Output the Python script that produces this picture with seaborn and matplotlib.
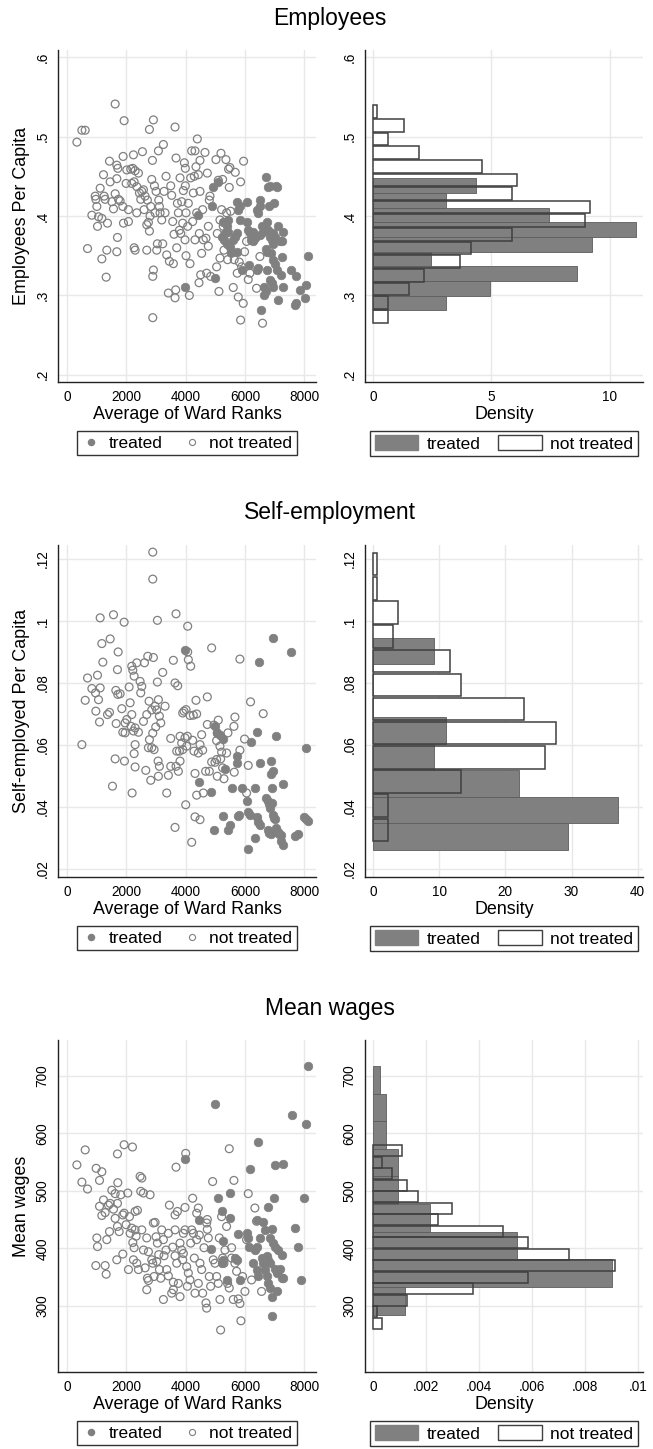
import matplotlib
matplotlib.use("Agg")
import matplotlib.pyplot as plt
import numpy as np
import pandas as pd
import seaborn as sns
from matplotlib.lines import Line2D
from matplotlib.patches import Patch

# ---------------- Employees ----------------
emp_treated = [
    (4432, .401), (4937, .436), (5105, .443), (4881, .412), (4993, .322), (3994, .311),
    (5273, .393), (5385, .387), (5330, .378), (5442, .380), (5217, .374), (5296, .370),
    (5385, .365), (5498, .361), (5531, .355), (5610, .370), (5666, .374), (5722, .378),
    (5744, .418), (5834, .412), (5755, .408), (5834, .395), (5890, .332), (6059, .393),
    (6115, .382), (6171, .378), (6081, .418), (6148, .338), (6193, .370), (6283, .368),
    (6339, .372), (6395, .332), (6451, .334), (6530, .282), (6395, .408), (6451, .404),
    (6508, .412), (6508, .420), (6564, .387), (6597, .380), (6653, .385), (6653, .311),
    (6709, .305), (6653, .300), (6709, .449), (6732, .393), (6788, .382), (6844, .374),
    (6900, .370), (6956, .365), (6732, .332), (6844, .320), (6900, .316), (6956, .311),
    (6788, .436), (6844, .438), (6822, .412), (6866, .353), (6934, .345), (7013, .340),
    (6990, .416), (7046, .438), (7091, .437), (7069, .332), (7102, .294), (7125, .387),
    (7181, .368), (7237, .349), (7203, .326), (7271, .311), (7293, .380), (7248, .368),
    (7552, .332), (7742, .324), (7687, .288), (7742, .290), (7854, .307), (8022, .297),
    (8056, .313), (8134, .350), (5442, .395), (5722, .355), (6956, .378), (7013, .374),
    (6508, .376), (6283, .380), (6709, .359), (6732, .355),
]
emp_untreated = [
    (337, .493), (505, .508), (617, .508), (696, .359), (842, .401), (954, .425), (976, .421),
    (1010, .412), (1066, .399), (1032, .387), (1122, .435), (1178, .397), (1178, .346),
    (1234, .452), (1257, .425), (1290, .421), (1324, .323), (1346, .357), (1369, .391),
    (1436, .469), (1459, .443), (1515, .418), (1571, .409), (1627, .541), (1627, .428),
    (1683, .464), (1717, .460), (1683, .447), (1705, .373), (1683, .355), (1739, .421),
    (1795, .419), (1885, .412), (1908, .391), (1930, .520), (1896, .475), (1997, .441),
    (2020, .458), (2076, .393), (2076, .408), (2154, .459), (2222, .460), (2300, .457),
    (2244, .477), (2188, .441), (2267, .443), (2356, .437), (2267, .360), (2300, .357),
    (2356, .404), (2412, .454), (2446, .429), (2490, .421), (2525, .431), (2581, .433),
    (2547, .481), (2603, .408), (2637, .425), (2693, .389), (2749, .392), (2693, .357),
    (2715, .420), (2783, .509), (2783, .381), (2805, .400), (2827, .412), (2861, .446),
    (2884, .470), (2917, .521), (2917, .332), (2895, .324), (2895, .272), (2951, .438),
    (2973, .404), (3007, .431), (3029, .357), (3052, .365), (3086, .482), (3097, .420),
    (3119, .412), (3142, .404), (3198, .395), (3231, .365), (3254, .490), (3276, .431),
    (3310, .404), (3343, .450), (3366, .351), (3422, .303), (3456, .343), (3501, .438),
    (3534, .426), (3568, .393), (3590, .340), (3613, .377), (3647, .512), (3647, .297),
    (3669, .307), (3680, .473), (3703, .360), (3726, .416), (3759, .404), (3793, .382),
    (3815, .448), (3838, .378), (3871, .418), (3905, .391), (3927, .432), (3961, .467),
    (3983, .370), (3994, .460), (3994, .438), (4017, .404), (4017, .350), (4073, .387),
    (4095, .416), (4129, .300), (4151, .340), (4174, .448), (4207, .482), (4320, .482),
    (4241, .393), (4264, .429), (4297, .450), (4320, .370), (4353, .462), (4376, .404),
    (4398, .497), (4432, .452), (4455, .316), (4466, .378), (4488, .470), (4488, .431),
    (4511, .326), (4544, .353), (4578, .408), (4600, .370), (4656, .480), (4690, .372),
    (4713, .328), (4735, .454), (4769, .387), (4769, .362), (4802, .420), (4825, .425),
    (4847, .324), (5026, .471), (5049, .336), (5071, .378), (5105, .445), (5127, .305),
    (5161, .395), (5161, .347), (5195, .479), (5217, .408), (5251, .446), (5273, .387),
    (5296, .357), (5363, .471), (5385, .404), (5419, .345), (5452, .459), (5475, .436),
    (5498, .461), (5520, .406), (5553, .353), (5610, .310), (5643, .345), (5677, .455),
    (5744, .328), (5778, .298), (5811, .342), (5857, .443), (5857, .269), (5890, .336),
    (5946, .290), (5958, .469), (5991, .355), (6059, .368), (6115, .320), (6171, .328),
    (6395, .309), (6597, .265), (6508, .349),
]
emp_ylim = (0.191, 0.609)
emp_yticks = [0.2, 0.3, 0.4, 0.5, 0.6]
emp_yticklabels = [".2", ".3", ".4", ".5", ".6"]
# histogram: top edge, bin width, densities listed from top bin downwards
emp_hist_t_top, emp_hist_t_width = 0.4477, 0.0185
emp_hist_t_dens = [4.34, 3.07, 7.42, 11.1, 9.24, 2.46, 8.63, 4.93, 3.07]
emp_hist_n_top, emp_hist_n_width = 0.540, 0.01718
emp_hist_n_dens = [0.18, 1.3, 0.63, 1.93, 4.58, 6.08, 5.87, 9.15, 8.93, 5.87, 4.14,
                   3.69, 2.15, 1.51, 0.63, 0.63]
emp_dens_xlim = (-0.34, 11.4)
emp_dens_ticks = [0, 5, 10]
emp_dens_labels = ["0", "5", "10"]

# ---------------- Self-employment ----------------
self_treated = [
    (3994, .0905), (4466, .0481), (4858, .0448), (4960, .0327), (4993, .0660), (5071, .0639),
    (5161, .0633), (5251, .0619), (5330, .0521), (5251, .0372), (5419, .0327), (5498, .0343),
    (5554, .0461), (5722, .0564), (5744, .0542), (5778, .0370), (5811, .0374), (5890, .0461),
    (6059, .0418), (6115, .0383), (6171, .0375), (6115, .0263), (6193, .0609), (6339, .0461),
    (6339, .0300), (6395, .0368), (6451, .0352), (6508, .0341), (6418, .0641), (6485, .0867),
    (6508, .0542), (6709, .0430), (6765, .0419), (6822, .0408), (6855, .0397), (6900, .0414),
    (6765, .0327), (6822, .0316), (6878, .0314), (6878, .0548), (6878, .0505), (6934, .0516),
    (6900, .0461), (6956, .0945), (6934, .0375), (6990, .0363), (7013, .0361), (7046, .0331),
    (7102, .0320), (7159, .0314), (7215, .0311), (7215, .0289), (7271, .0278), (7068, .0628),
    (7293, .0475), (7552, .0900), (7687, .0305), (7800, .0312), (8000, .0368), (8056, .0361),
    (8134, .0354), (8056, .0590),
]
self_untreated = [
    (505, .0601), (617, .0744), (696, .0816), (842, .0782), (965, .0768), (976, .0709),
    (1032, .0825), (1066, .0746), (1100, .0674), (1122, .0784), (1122, .1010), (1178, .0927),
    (1212, .0867), (1369, .0698), (1436, .0705), (1459, .0942), (1537, .0467), (1571, .1020),
    (1627, .0555), (1650, .0776), (1717, .0763), (1661, .0669), (1705, .0843), (1728, .0900),
    (1795, .0765), (1851, .0717), (1885, .0641), (1963, .0639), (1930, .0996), (1941, .0548),
    (1963, .0671), (2020, .0682), (2098, .0787), (2132, .0736), (2188, .0698), (2166, .0660),
    (2188, .0854), (2222, .0841), (2267, .0822), (2199, .0445), (2244, .0645), (2300, .0655),
    (2300, .0601), (2267, .0572), (2300, .0529), (2356, .0865), (2412, .0641), (2468, .0805),
    (2490, .0768), (2525, .0789), (2581, .0676), (2615, .0865), (2660, .0518), (2693, .0698),
    (2727, .0886), (2771, .0741), (2749, .0591), (2783, .0617), (2827, .0486), (2861, .0713),
    (2895, .0638), (2861, .0591), (2895, .1222), (2895, .1135), (2917, .0882), (2940, .0585),
    (2996, .0658), (2973, .0725), (3029, .0713), (3052, .0803), (3052, .1002), (3086, .0746),
    (3119, .0693), (3164, .0671), (3075, .0548), (3119, .0531), (3086, .0499), (3231, .0834),
    (3310, .0725), (3366, .0445), (3422, .0502), (3501, .0621), (3501, .0531), (3590, .0873),
    (3647, .0800), (3736, .0791), (3647, .0334), (3680, .1023), (3680, .0531), (3759, .0515),
    (3703, .0580), (3793, .0580), (3815, .0628), (3871, .0606), (3905, .0585), (3815, .0548),
    (3905, .0703), (3950, .0709), (4017, .0714), (3983, .0623), (4039, .0596), (4062, .0628),
    (4006, .0407), (4073, .0983), (4073, .0900), (4095, .0875), (4174, .0854), (4152, .0695),
    (4264, .0696), (4376, .0700), (4208, .0286), (4241, .0615), (4286, .0580), (4320, .0508),
    (4320, .0368), (4353, .0744), (4376, .0438), (4432, .0574), (4488, .0601), (4488, .0359),
    (4544, .0633), (4578, .0583), (4600, .0445), (4679, .0515), (4735, .0755), (4802, .0515),
    (4735, .0666), (4881, .0545), (4960, .0664), (4881, .0913), (4993, .0544), (5049, .0553),
    (5071, .0499), (5049, .0614), (5071, .0639), (5105, .0680), (5161, .0596), (5217, .0577),
    (5184, .0555), (5251, .0526), (5296, .0491), (5385, .0574), (5430, .0639), (5632, .0660),
    (5666, .0690), (5643, .0512), (5834, .0877), (5834, .0583), (5991, .0619), (6059, .0445),
    (6115, .0534), (6193, .0739), (6620, .0701),
]
self_ylim = (0.0174, 0.1245)
self_yticks = [0.02, 0.04, 0.06, 0.08, 0.10, 0.12]
self_yticklabels = [".02", ".04", ".06", ".08", ".1", ".12"]
self_hist_t_top, self_hist_t_width = 0.0945, 0.00853
self_hist_t_dens = [9.29, 0, 0, 11.1, 9.29, 22.1, 37.0, 29.5]
self_hist_n_top, self_hist_n_width = 0.1222, 0.00779
self_hist_n_dens = [0.66, 0.66, 3.83, 3.06, 11.7, 13.3, 22.8, 27.6, 26.0, 13.3, 2.3, 2.3]
self_dens_xlim = (-1.2, 40.8)
self_dens_ticks = [0, 10, 20, 30, 40]
self_dens_labels = ["0", "10", "20", "30", "40"]

# ---------------- Mean wages ----------------
wage_treated = [
    (3983, 556), (4443, 450), (4858, 399), (4993, 650), (5105, 488), (5217, 464), (5251, 412),
    (5217, 374), (5273, 380), (5408, 345), (5498, 496), (5498, 452), (5666, 383), (5744, 380),
    (5778, 425), (5834, 345), (6059, 427), (6115, 418), (6148, 403), (6171, 537), (6283, 374),
    (6395, 363), (6451, 351), (6339, 397), (6395, 403), (6395, 450), (6451, 585), (6508, 418),
    (6564, 383), (6620, 374), (6620, 445), (6676, 431), (6676, 363), (6732, 351), (6788, 339),
    (6844, 331), (6732, 386), (6788, 380), (6844, 374), (6788, 471), (6844, 418), (6900, 434),
    (6900, 316), (6900, 282), (6956, 409), (7013, 403), (6990, 487), (7013, 364), (7069, 357),
    (7024, 545), (7069, 325), (7125, 397), (7237, 389), (7181, 364), (7237, 348), (7293, 546),
    (7697, 435), (7574, 631), (7798, 403), (7888, 345), (8000, 487), (8056, 616), (8134, 716),
    (7271, 348),
]
wage_untreated = [
    (337, 545), (505, 515), (617, 571), (696, 503), (987, 539), (1010, 418), (1032, 403),
    (976, 370), (1100, 518), (1178, 533), (1100, 473), (1178, 457), (1234, 484), (1290, 462),
    (1290, 370), (1324, 355), (1346, 415), (1402, 475), (1459, 478), (1436, 429), (1515, 501),
    (1571, 468), (1627, 452), (1627, 495), (1705, 564), (1717, 514), (1705, 478), (1705, 438),
    (1683, 380), (1762, 429), (1817, 493), (1885, 458), (1930, 461), (1885, 390), (1930, 580),
    (1997, 441), (2053, 496), (2076, 363), (2110, 455), (2132, 426), (2188, 435), (2211, 576),
    (2222, 410), (2267, 401), (2244, 380), (2300, 464), (2379, 466), (2300, 432), (2334, 421),
    (2356, 374), (2412, 363), (2468, 525), (2525, 522), (2490, 499), (2525, 432), (2581, 397),
    (2637, 366), (2581, 496), (2693, 418), (2749, 394), (2693, 328), (2715, 348), (2749, 344),
    (2805, 493), (2861, 380), (2895, 374), (2940, 351), (2917, 444), (2973, 445), (3007, 420),
    (3052, 409), (3029, 377), (3097, 389), (3119, 363), (3164, 348), (3198, 432), (3254, 415),
    (3254, 311), (3276, 387), (3343, 397), (3366, 363), (3422, 352), (3422, 426), (3456, 475),
    (3534, 322), (3590, 328), (3568, 402), (3647, 387), (3590, 341), (3647, 432), (3647, 458),
    (3726, 464), (3680, 541), (3703, 374), (3759, 339), (3815, 316), (3815, 409), (3871, 397),
    (3927, 391), (3905, 380), (3927, 426), (3983, 432), (3983, 471), (4006, 565), (4039, 368),
    (4095, 357), (4151, 345), (4062, 334), (4174, 409), (4208, 432), (4264, 426), (4241, 487),
    (4297, 383), (4320, 322), (4376, 461), (4432, 470), (4376, 415), (4466, 423), (4432, 339),
    (4488, 374), (4544, 363), (4578, 322), (4623, 401), (4690, 305), (4713, 296), (4713, 444),
    (4735, 433), (4735, 450), (4769, 418), (4802, 351), (4847, 334), (4915, 516), (4937, 380),
    (4993, 374), (5049, 351), (5105, 339), (5139, 418), (5161, 311), (5184, 258), (5217, 455),
    (5251, 383), (5296, 374), (5330, 397), (5385, 438), (5419, 339), (5475, 331), (5475, 573),
    (5554, 401), (5554, 383), (5610, 311), (5666, 374), (5632, 518), (5722, 360), (5778, 312),
    (5834, 304), (5868, 274), (5924, 351), (6003, 325), (6059, 415), (6115, 495), (6227, 345),
    (6339, 470), (6395, 447), (6564, 325),
]
wage_ylim = (185, 762)
wage_yticks = [300, 400, 500, 600, 700]
wage_yticklabels = ["300", "400", "500", "600", "700"]
wage_hist_t_top, wage_hist_t_width = 716.8, 48.0
wage_hist_t_dens = [.00025, .00048, .00048, .00095, .00095, .00215, .00545, .00903, .0012]
wage_hist_n_top, wage_hist_n_width = 579.6, 20.0
wage_hist_n_dens = [.0011, .00035, .00072, .0013, .0017, .0030, .00245, .0049, .00587,
                    .0074, .00913, .00587, .00378, .0013, .00016, .00034]
wage_dens_xlim = (-0.0003, 0.0102)
wage_dens_ticks = [0, .002, .004, .006, .008, .01]
wage_dens_labels = ["0", ".002", ".004", ".006", ".008", ".01"]

rank_ticks = [0, 2000, 4000, 6000, 8000]
rank_xlim = (-300, 8400)

GREY = "#808080"
EDGE = "#404040"
GRID = "#e8e8e8"

sns.set_style("white")
plt.rcParams["font.family"] = ["Liberation Sans", "DejaVu Sans"]
plt.rcParams["text.color"] = "black"
plt.rcParams["axes.labelcolor"] = "black"
plt.rcParams["xtick.color"] = "black"
plt.rcParams["ytick.color"] = "black"

fig = plt.figure(figsize=(6.53, 14.49), dpi=100)
W, H = 653.0, 1449.0


def make_ax(x0, x1, y_top, y_bot):
    return fig.add_axes([x0 / W, 1 - y_bot / H, (x1 - x0) / W, (y_bot - y_top) / H])


def style_ax(ax, ylim, yticks, yticklabels):
    ax.set_ylim(*ylim)
    ax.set_yticks(yticks)
    ax.set_yticklabels(yticklabels, rotation=90, va="center", fontsize=9.8)
    ax.grid(True, color=GRID, lw=1)
    ax.set_axisbelow(True)
    for s in ["top", "right"]:
        ax.spines[s].set_visible(False)
    for s in ["left", "bottom"]:
        ax.spines[s].set_color("#222222")
        ax.spines[s].set_linewidth(1)
    ax.tick_params(axis="both", direction="out", length=4, width=1, color="#222222",
                   labelsize=9.8, labelcolor="black", pad=2)


def scatter_panel(ax, treated, untreated, ylabel, ylim, yticks, yticklabels):
    t = pd.DataFrame(treated, columns=["rank", "val"])
    n = pd.DataFrame(untreated, columns=["rank", "val"])
    sns.scatterplot(data=n, x="rank", y="val", ax=ax, facecolors="none", edgecolor=GREY,
                    s=32, linewidth=0.9, zorder=3)
    sns.scatterplot(data=t, x="rank", y="val", ax=ax, color=GREY, edgecolor=GREY,
                    s=38, linewidth=0.5, zorder=4)
    ax.set_xlim(*rank_xlim)
    ax.set_xticks(rank_ticks)
    ax.set_xticklabels([str(v) for v in rank_ticks])
    style_ax(ax, ylim, yticks, yticklabels)
    ax.set_xlabel("Average of Ward Ranks", fontsize=12.9, labelpad=1)
    ax.set_ylabel(ylabel, fontsize=12.9, labelpad=4)
    handles = [
        Line2D([], [], marker="o", ls="", markerfacecolor=GREY, markeredgecolor=GREY,
               markersize=4.4),
        Line2D([], [], marker="o", ls="", markerfacecolor="none", markeredgecolor=GREY,
               markersize=4.4, markeredgewidth=0.8),
    ]
    leg = ax.legend(handles, ["treated", "not treated"], loc="upper center",
                    bbox_to_anchor=(0.5, -0.148), ncol=2, frameon=True, fancybox=False,
                    edgecolor="black", fontsize=12.5, handletextpad=0.45,
                    columnspacing=1.15, borderpad=0.25, handlelength=1.1,
                    borderaxespad=0)
    leg.get_frame().set_linewidth(1)


def bins_from(top, width, dens):
    k = len(dens)
    edges = sorted(float(top - width * i) for i in range(k + 1))
    df = pd.DataFrame({
        "val": [top - width * (i + 0.5) for i in range(k)],
        "dens": list(dens),
    })
    return edges, df


def hist_panel(ax, t_top, t_w, t_dens, n_top, n_w, n_dens, ylim, yticks, yticklabels,
               xlim, xticks, xlabels):
    t_edges, t_df = bins_from(t_top, t_w, t_dens)
    n_edges, n_df = bins_from(n_top, n_w, n_dens)
    # white fill for untreated, grey treated on top, untreated outline last
    sns.histplot(data=n_df, y="val", weights="dens", bins=n_edges, ax=ax, color="white",
                 alpha=1, linewidth=0, shrink=0.93, zorder=2)
    sns.histplot(data=t_df, y="val", weights="dens", bins=t_edges, ax=ax, color=GREY,
                 alpha=1, edgecolor="#5c5c5c", linewidth=0.6, zorder=3)
    sns.histplot(data=n_df, y="val", weights="dens", bins=n_edges, ax=ax, fill=False,
                 color=EDGE, linewidth=1.1, shrink=0.93, zorder=4)
    ax.set_xlim(*xlim)
    ax.set_xticks(xticks)
    ax.set_xticklabels(xlabels)
    style_ax(ax, ylim, yticks, yticklabels)
    ax.set_xlabel("Density", fontsize=12.9, labelpad=1)
    ax.set_ylabel("")
    handles = [Patch(facecolor=GREY, edgecolor=GREY),
               Patch(facecolor="white", edgecolor=EDGE, linewidth=1)]
    leg = ax.legend(handles, ["treated", "not treated"], loc="upper center",
                    bbox_to_anchor=(0.5, -0.148), ncol=2, frameon=True, fancybox=False,
                    edgecolor="black", fontsize=12.5, handletextpad=0.5,
                    columnspacing=1.0, borderpad=0.25, handlelength=2.5,
                    handleheight=0.9, borderaxespad=0)
    leg.get_frame().set_linewidth(1)


rows = [
    ("Employees", 18, 50, 382, emp_treated, emp_untreated, "Employees Per Capita",
     emp_ylim, emp_yticks, emp_yticklabels, emp_hist_t_top, emp_hist_t_width,
     emp_hist_t_dens, emp_hist_n_top, emp_hist_n_width, emp_hist_n_dens,
     emp_dens_xlim, emp_dens_ticks, emp_dens_labels),
    ("Self-employment", 513, 545, 877, self_treated, self_untreated,
     "Self-employed Per Capita", self_ylim, self_yticks, self_yticklabels,
     self_hist_t_top, self_hist_t_width, self_hist_t_dens, self_hist_n_top,
     self_hist_n_width, self_hist_n_dens, self_dens_xlim, self_dens_ticks,
     self_dens_labels),
    ("Mean wages", 1008, 1040, 1372, wage_treated, wage_untreated, "Mean wages",
     wage_ylim, wage_yticks, wage_yticklabels, wage_hist_t_top, wage_hist_t_width,
     wage_hist_t_dens, wage_hist_n_top, wage_hist_n_width, wage_hist_n_dens,
     wage_dens_xlim, wage_dens_ticks, wage_dens_labels),
]

for (title, ty, top, bot, tr, un, ylab, ylim, yt, ytl, htt, htw, htd, hnt, hnw, hnd,
     dxl, dxt, dxlab) in rows:
    fig.text(330 / W, 1 - ty / H, title, ha="center", va="center", fontsize=16.5,
             color="black")
    ax1 = make_ax(58, 316, top, bot)
    scatter_panel(ax1, tr, un, ylab, ylim, yt, ytl)
    ax2 = make_ax(365, 643, top, bot)
    hist_panel(ax2, htt, htw, htd, hnt, hnw, hnd, ylim, yt, ytl, dxl, dxt, dxlab)

fig.savefig("out.png", dpi=100)
